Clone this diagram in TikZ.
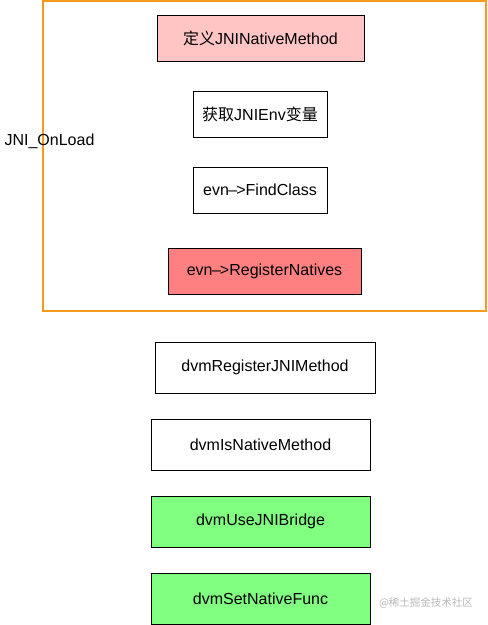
\documentclass[tikz,border=0pt]{standalone}
\usepackage{fontspec}
\setmainfont{Liberation Sans}
\newfontfamily\cjk{Noto Sans CJK SC}
\definecolor{frameorange}{HTML}{F59A1A}
\definecolor{pinkfill}{HTML}{FFC4C4}
\definecolor{redfill}{HTML}{FF8080}
\definecolor{greenfill}{HTML}{80FF80}
\definecolor{wmgray}{HTML}{B8B8B8}
\begin{document}
\begin{tikzpicture}[x=1pt,y=-1pt,
  box/.style={draw=black,line width=0.9pt,rectangle,inner sep=0pt,font=\fontsize{16}{19}\selectfont,text=black},
  frame/.style={draw=frameorange,line width=2pt,rectangle,inner sep=0pt}]
\useasboundingbox (0,0) rectangle (488,625);
\node[frame,minimum width=443pt,minimum height=310pt] (onload) at (264.5,156) {};
\node[font=\fontsize{16}{19}\selectfont] (lbl) at (49.5,141) {JNI\_OnLoad};
\node[box,fill=pinkfill,minimum width=207pt,minimum height=46pt] (b1) at (260.5,38) {{\cjk 定义}JNINativeMethod};
\node[box,minimum width=134pt,minimum height=46pt] (b2) at (260,114) {{\cjk 获取}JNIEnv{\cjk 变量}};
\node[box,minimum width=134pt,minimum height=46pt] (b3) at (260,190) {evn\kern-0.5pt–\kern-1pt>FindClass};
\node[box,fill=redfill,minimum width=193pt,minimum height=46pt] (b4) at (264.5,271) {evn\kern-0.5pt–\kern-1pt>RegisterNatives};
\node[box,minimum width=220pt,minimum height=51pt] (b5) at (265,367.5) {dvmRegisterJNIMethod};
\node[box,minimum width=219pt,minimum height=51pt] (b6) at (260.5,444.5) {dvmIsNativeMethod};
\node[box,fill=greenfill,minimum width=219pt,minimum height=51pt] (b7) at (260.5,521.5) {dvmUseJNIBridge};
\node[box,fill=greenfill,minimum width=219pt,minimum height=51pt] (b8) at (260.5,598.5) {dvmSetNativeFunc};
\node[text=wmgray,font=\cjk\fontsize{10.5}{12}\selectfont] (wm) at (426,603) {@稀土掘金技术社区};
\end{tikzpicture}
\end{document}
